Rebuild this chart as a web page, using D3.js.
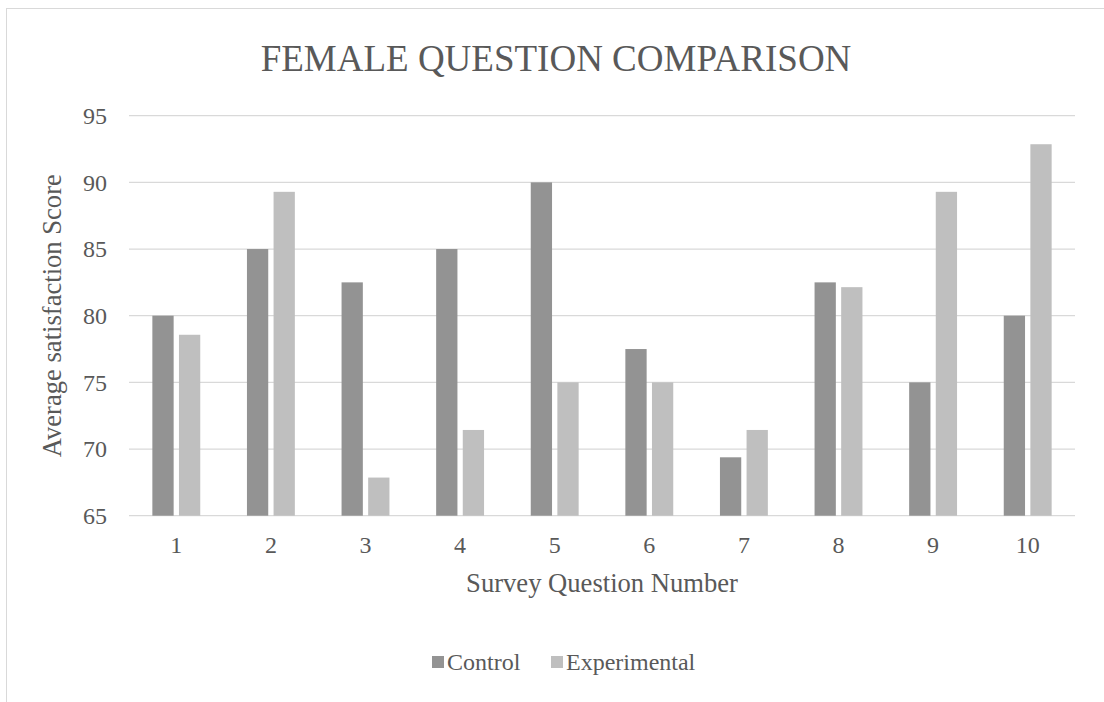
<!DOCTYPE html>
<html>
<head>
<meta charset="utf-8">
<script src="https://cdn.jsdelivr.net/npm/d3@7"></script>
<style>
  html, body { margin: 0; padding: 0; background: #fff; }
  svg { display: block; }
</style>
</head>
<body>
<svg id="chart" width="1104" height="702"></svg>
<script>
// Survey results: average satisfaction score per question
const questions = ["1", "2", "3", "4", "5", "6", "7", "8", "9", "10"];
const controlScores = [80, 85, 82.5, 85, 90, 77.5, 69.38, 82.5, 75, 80];
const experimentalScores = [78.57, 89.29, 67.86, 71.43, 75, 75, 71.43, 82.14, 89.29, 92.86];
const seriesNames = ["Control", "Experimental"];
const seriesColors = ["#939393", "#bfbfbf"];
const yTicks = [65, 70, 75, 80, 85, 90, 95];

const FONT = "'Liberation Serif', 'Times New Roman', Times, 'Nimbus Roman', 'DejaVu Serif', serif";
const INK = "#595959";

const svg = d3.select("#chart");

// chart frame
svg.append("rect")
  .attr("x", 6.5).attr("y", 8.5)
  .attr("width", 1110).attr("height", 710)
  .attr("fill", "#fff").attr("stroke", "#d9d9d9").attr("stroke-width", 1);

const plot = { left: 129, right: 1075, top: 115.7, bottom: 515.7 };

const x = d3.scaleBand().domain(questions).range([plot.left, plot.right]).padding(0);
const y = d3.scaleLinear().domain([65, 95]).range([plot.bottom, plot.top]);

const barW = x.bandwidth() * 0.225;
const barGap = barW * 0.25;
const groupW = barW * 2 + barGap;
const xs = d3.scaleOrdinal().domain(seriesNames).range([0, barW + barGap]);

// gridlines
svg.append("g")
  .selectAll("line")
  .data(yTicks)
  .join("line")
  .attr("x1", plot.left).attr("x2", plot.right)
  .attr("y1", d => y(d)).attr("y2", d => y(d))
  .attr("stroke", "#d9d9d9").attr("stroke-width", 1.3);

// bars
const rows = questions.map((q, i) => ({ q, values: [controlScores[i], experimentalScores[i]] }));
const groups = svg.append("g").selectAll("g")
  .data(rows)
  .join("g")
  .attr("transform", d => `translate(${x(d.q) + (x.bandwidth() - groupW) / 2},0)`);

groups.selectAll("rect")
  .data(d => d.values.map((v, k) => ({ name: seriesNames[k], v, k })))
  .join("rect")
  .attr("x", d => xs(d.name))
  .attr("width", barW)
  .attr("y", d => y(d.v))
  .attr("height", d => y(65) - y(d.v))
  .attr("fill", d => seriesColors[d.k]);

// y axis labels
const yAxis = d3.axisLeft(y).tickValues(yTicks).tickSize(0).tickPadding(22);
const gy = svg.append("g").attr("transform", `translate(${plot.left},0)`).call(yAxis)
  .attr("font-family", FONT).attr("font-size", 24);
gy.select(".domain").remove();
gy.selectAll("text").attr("fill", INK).attr("dy", "0.32em");

// x axis labels
const xAxis = d3.axisBottom(x).tickSize(0).tickPadding(20);
const gx = svg.append("g").attr("transform", `translate(0,${plot.bottom})`).call(xAxis)
  .attr("font-family", FONT).attr("font-size", 24);
gx.select(".domain").remove();
gx.selectAll("text").attr("fill", INK).attr("dy", "0.71em");

// title
svg.append("text")
  .attr("x", 556).attr("y", 71)
  .attr("text-anchor", "middle")
  .attr("font-family", FONT).attr("font-size", 37).attr("fill", INK)
  .text("FEMALE QUESTION COMPARISON");

// axis titles
svg.append("text")
  .attr("x", (plot.left + plot.right) / 2).attr("y", 592)
  .attr("text-anchor", "middle")
  .attr("font-family", FONT).attr("font-size", 26.6).attr("fill", INK)
  .text("Survey Question Number");

svg.append("text")
  .attr("transform", `translate(61,${(plot.top + plot.bottom) / 2}) rotate(-90)`)
  .attr("text-anchor", "middle")
  .attr("font-family", FONT).attr("font-size", 26.6).attr("fill", INK)
  .text("Average satisfaction Score");

// legend
const legendItems = [
  { name: seriesNames[0], color: seriesColors[0], x: 432 },
  { name: seriesNames[1], color: seriesColors[1], x: 551 }
];
const legend = svg.append("g").selectAll("g")
  .data(legendItems)
  .join("g")
  .attr("transform", d => `translate(${d.x},0)`);
legend.append("rect")
  .attr("x", 0).attr("y", 656).attr("width", 12).attr("height", 12)
  .attr("fill", d => d.color);
legend.append("text")
  .attr("x", 15).attr("y", 670)
  .attr("font-family", FONT).attr("font-size", 24).attr("fill", INK)
  .text(d => d.name);
</script>
</body>
</html>
